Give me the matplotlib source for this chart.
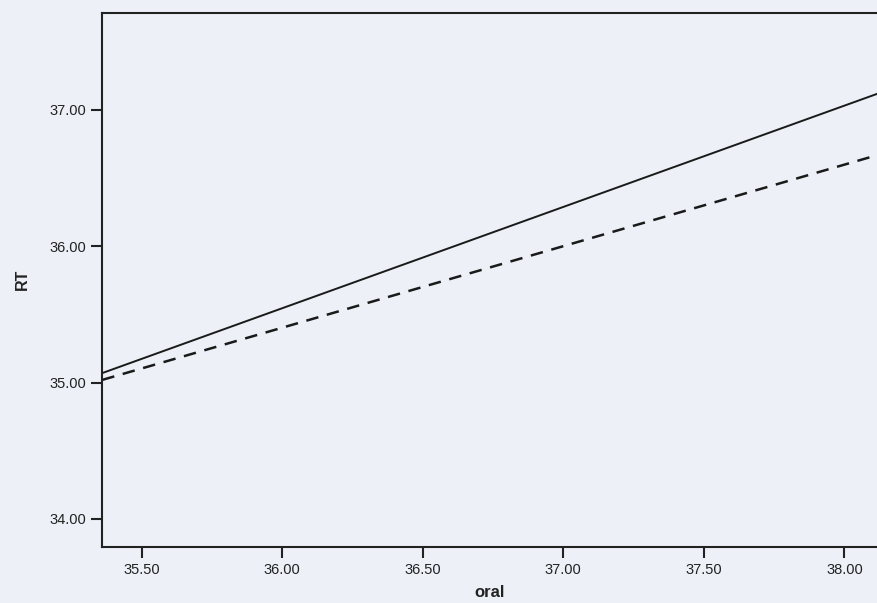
import numpy as np
import matplotlib
matplotlib.use('Agg')
import matplotlib.pyplot as plt

plt.rcParams['font.family'] = ['Liberation Sans', 'DejaVu Sans']

# line endpoints
oral = [35.36, 38.12]
rt_solid = [35.07, 37.12]
rt_dashed = [35.02, 36.67]

xticks = [35.5, 36.0, 36.5, 37.0, 37.5, 38.0]
yticks = [34.0, 35.0, 36.0, 37.0]

bg = '#edf0f7'
fig = plt.figure(figsize=(8.77, 6.03), dpi=100, facecolor=bg)
ax = fig.add_axes([0.1163, 0.0934, 0.8837, 0.885])
ax.set_facecolor(bg)

ax.plot(oral, rt_solid, color='#1a1a1a', lw=1.4)
ax.plot(oral, rt_dashed, color='#1a1a1a', lw=1.8, dashes=(5, 3.5))

ax.set_xlim(35.359, 38.116)
ax.set_ylim(33.797, 37.71)
ax.set_xticks(xticks)
ax.set_yticks(yticks)
ax.set_xticklabels(['%.2f' % v for v in xticks], fontsize=10.5, color='#222222')
ax.set_yticklabels(['%.2f' % v for v in yticks], fontsize=10.5, color='#222222')
ax.tick_params(direction='out', length=8, width=1.5, color='#222222', pad=3.5)

for s in ['left', 'bottom', 'top']:
    ax.spines[s].set_linewidth(1.5)
    ax.spines[s].set_color('#222222')
ax.spines['right'].set_visible(False)

ax.set_xlabel('oral', fontsize=12, fontweight='bold', color='#222222', labelpad=6)
ax.set_ylabel('RT', fontsize=11.5, fontweight='bold', color='#222222', labelpad=14)

fig.savefig('out.png', dpi=100, facecolor=bg)
